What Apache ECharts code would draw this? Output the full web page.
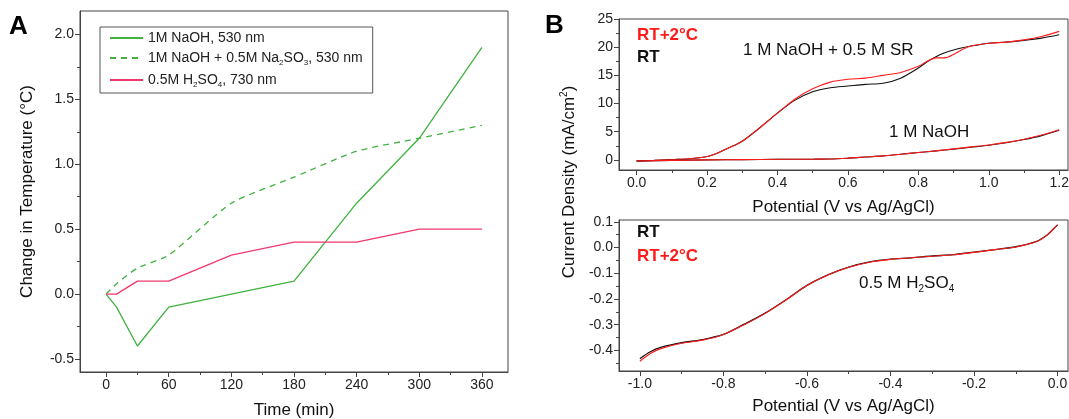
<!DOCTYPE html>
<html><head><meta charset="utf-8">
<script src="https://cdn.jsdelivr.net/npm/echarts@6/dist/echarts.min.js"></script>
<style>html,body{margin:0;padding:0;background:#fff}#c{width:1069px;height:419px}</style>
</head><body><div id="c"></div>
<script>
// ---- Panel A data ----
const timeMin = [0, 10, 30, 60, 120, 180, 240, 300, 360];
const naoh530 = [0, -0.1, -0.4, -0.1, 0, 0.1, 0.7, 1.2, 1.9];
const naohSulfite530 = [0, 0.08, 0.2, 0.3, 0.7, 0.9, 1.1, 1.2, 1.3];
const h2so4_730 = [0, 0, 0.1, 0.1, 0.3, 0.4, 0.4, 0.5, 0.5];
const timeTicks = [0, 60, 120, 180, 240, 300, 360];
const timeMinorTicks = [30, 90, 150, 210, 270, 330];
const tempTicks = [-0.5, 0, 0.5, 1.0, 1.5, 2.0];
const tempMinorTicks = [-0.25, 0.25, 0.75, 1.25, 1.75];

// ---- Panel B (top) data ----
const potSR = [0, 0.05, 0.1, 0.15, 0.2, 0.225, 0.25, 0.275, 0.3, 0.35, 0.4, 0.45, 0.5, 0.55, 0.6, 0.65, 0.7, 0.75, 0.8, 0.825, 0.85, 0.875, 0.9, 0.925, 0.95, 1.0, 1.05, 1.1, 1.15, 1.2];
const srRTplus2 = [-0.2, -0.1, 0.05, 0.2, 0.6, 1.1, 1.8, 2.5, 3.3, 5.7, 8.3, 10.8, 12.6, 13.8, 14.3, 14.5, 15.0, 15.5, 16.6, 17.5, 18.1, 18.1, 18.7, 19.6, 20.2, 20.7, 20.9, 21.3, 21.9, 22.8];
const srRT = [-0.2, -0.1, 0.05, 0.2, 0.6, 1.1, 1.8, 2.5, 3.3, 5.7, 8.3, 10.6, 12.1, 12.8, 13.1, 13.4, 13.6, 14.5, 16.3, 17.4, 18.3, 19.0, 19.5, 19.9, 20.2, 20.7, 20.9, 21.2, 21.6, 22.2];
const potNaOH = [0, 0.1, 0.2, 0.3, 0.4, 0.5, 0.55, 0.6, 0.65, 0.7, 0.75, 0.8, 0.85, 0.9, 0.95, 1.0, 1.05, 1.1, 1.15, 1.2];
const naohRTplus2 = [-0.2, -0.1, 0, 0.05, 0.1, 0.12, 0.15, 0.3, 0.5, 0.7, 1.0, 1.3, 1.6, 1.95, 2.3, 2.65, 3.1, 3.65, 4.4, 5.35];
const naohRT = [-0.2, -0.1, 0, 0.05, 0.1, 0.12, 0.15, 0.3, 0.5, 0.7, 1.0, 1.3, 1.6, 1.9, 2.25, 2.6, 3.05, 3.6, 4.3, 5.25];
const potTicksTop = [0, 0.2, 0.4, 0.6, 0.8, 1.0, 1.2];
const potMinorTop = [0.1, 0.3, 0.5, 0.7, 0.9, 1.1];
const cdTicksTop = [0, 5, 10, 15, 20, 25];
const cdMinorTop = [2.5, 7.5, 12.5, 17.5, 22.5];

// ---- Panel B (bottom) data ----
const potAcid = [-1.0, -0.975, -0.95, -0.9, -0.85, -0.8, -0.75, -0.7, -0.65, -0.6, -0.55, -0.5, -0.45, -0.4, -0.35, -0.3, -0.25, -0.2, -0.15, -0.1, -0.05, -0.025, -0.01, 0];
const acidRT = [-0.432, -0.405, -0.388, -0.370, -0.358, -0.338, -0.298, -0.255, -0.203, -0.147, -0.106, -0.076, -0.056, -0.045, -0.040, -0.033, -0.028, -0.018, -0.008, 0.003, 0.024, 0.049, 0.072, 0.088];
const acidRTplus2 = [-0.442, -0.412, -0.393, -0.372, -0.360, -0.338, -0.300, -0.256, -0.204, -0.148, -0.107, -0.077, -0.057, -0.046, -0.040, -0.034, -0.028, -0.019, -0.008, 0.002, 0.023, 0.048, 0.072, 0.088];
const potTicksBot = [-1.0, -0.8, -0.6, -0.4, -0.2, 0.0];
const potMinorBot = [-0.9, -0.7, -0.5, -0.3, -0.1];
const cdTicksBot = [-0.4, -0.3, -0.2, -0.1, 0.0, 0.1];
const cdMinorBot = [-0.45, -0.35, -0.25, -0.15, -0.05, 0.05];

const FONT = '"Liberation Sans", Arial, sans-serif';
const AX = '#444';
const zip = (xs, ys) => xs.map((x, i) => [x, ys[i]]);

function mainAxis(gi, pos, min, max, ticks, fmt, extra) {
  return Object.assign({
    type: 'value', gridIndex: gi, position: pos, min: min, max: max, scale: true,
    splitLine: { show: false },
    axisLine: { show: true, onZero: false, lineStyle: { color: AX, width: 1 } },
    axisTick: { show: true, customValues: ticks, length: 5, lineStyle: { color: AX } },
    axisLabel: { customValues: ticks, formatter: fmt, color: '#222', fontSize: 14, fontFamily: FONT, margin: 6 },
    nameTextStyle: { color: '#111', fontSize: 17, fontFamily: FONT }
  }, extra || {});
}
function minorAxis(gi, pos, min, max, ticks) {
  return {
    type: 'value', gridIndex: gi, position: pos, min: min, max: max, scale: true,
    splitLine: { show: false },
    axisLine: { show: false, onZero: false },
    axisTick: { show: true, customValues: ticks, length: 3, lineStyle: { color: AX } },
    axisLabel: { show: false }
  };
}
const f1 = v => v.toFixed(1);
const f0 = v => v.toFixed(0);

const sub = { fontSize: 8, fontFamily: FONT, color: '#222', padding: [10, 0, 0, 0] };
const gridBase = { show: true, borderColor: AX, borderWidth: 1, containLabel: false, outerBoundsMode: 'none' };

const option = {
  animation: false,
  backgroundColor: '#fff',
  grid: [
    Object.assign({ left: 80, top: 11, width: 428, height: 361 }, gridBase),
    Object.assign({ left: 619, top: 19, width: 449, height: 151 }, gridBase),
    Object.assign({ left: 619, top: 220, width: 449, height: 151 }, gridBase)
  ],
  xAxis: [
    mainAxis(0, 'bottom', -25, 385, timeTicks, f0, { name: 'Time (min)', nameLocation: 'middle', nameGap: 30 }),
    minorAxis(0, 'bottom', -25, 385, timeMinorTicks),
    mainAxis(1, 'bottom', -0.05, 1.225, potTicksTop, f1, { name: 'Potential (V vs Ag/AgCl)', nameLocation: 'middle', nameGap: 29 }),
    minorAxis(1, 'bottom', -0.05, 1.225, potMinorTop),
    mainAxis(2, 'bottom', -1.05, 0.025, potTicksBot, f1, { name: 'Potential (V vs Ag/AgCl)', nameLocation: 'middle', nameGap: 27 }),
    minorAxis(2, 'bottom', -1.05, 0.025, potMinorBot)
  ],
  yAxis: [
    mainAxis(0, 'left', -0.6, 2.18, tempTicks, f1, { name: 'Change in Temperature (°C)', nameLocation: 'middle', nameGap: 44 }),
    minorAxis(0, 'left', -0.6, 2.18, tempMinorTicks),
    mainAxis(1, 'left', -1.8, 25, cdTicksTop, f0),
    minorAxis(1, 'left', -1.8, 25, cdMinorTop),
    mainAxis(2, 'left', -0.48, 0.107, cdTicksBot, f1),
    minorAxis(2, 'left', -0.48, 0.107, cdMinorBot)
  ],
  legend: {
    show: true,
    data: ['1M NaOH, 530 nm', '1M NaOH + 0.5M Na2SO3, 530 nm', '0.5M H2SO4, 730 nm'],
    orient: 'vertical', left: 100, top: 27,
    borderColor: '#555', borderWidth: 1, borderRadius: 0,
    padding: [4, 10, 4, 9], itemGap: 6, itemWidth: 33, itemHeight: 14,
    itemStyle: { color: 'rgba(0,0,0,0)', borderWidth: 0, opacity: 0 },
    textStyle: { fontSize: 14, fontFamily: FONT, color: '#222', rich: { sub: sub } },
    formatter: function (n) {
      if (n === '1M NaOH + 0.5M Na2SO3, 530 nm') return '1M NaOH + 0.5M Na{sub|2}SO{sub|3}, 530 nm';
      if (n === '0.5M H2SO4, 730 nm') return '0.5M H{sub|2}SO{sub|4}, 730 nm';
      return n;
    }
  },
  graphic: [
    { type: 'text', left: 9, top: 14, style: { text: 'A', font: 'bold 26px ' + FONT, fill: '#000' } },
    { type: 'text', left: 545, top: 13, style: { text: 'B', font: 'bold 26px ' + FONT, fill: '#000' } },
    { type: 'text', x: 569, y: 182, rotation: Math.PI / 2, style: {
        text: 'Current Density (mA/cm{sup|2})', font: '17px ' + FONT, fill: '#111', align: 'center', verticalAlign: 'middle',
        rich: { sup: { fontSize: 10, fontFamily: FONT, fill: '#111', padding: [0, 0, 9, 0] } } } },
    { type: 'text', left: 637, top: 27, style: { text: 'RT+2°C', font: 'bold 17px ' + FONT, fill: '#ff1a1a' } },
    { type: 'text', left: 637, top: 49, style: { text: 'RT', font: 'bold 17px ' + FONT, fill: '#111' } },
    { type: 'text', left: 743, top: 42, style: { text: '1 M NaOH + 0.5 M SR', font: '17px ' + FONT, fill: '#111' } },
    { type: 'text', left: 889, top: 124, style: { text: '1 M NaOH', font: '17px ' + FONT, fill: '#111' } },
    { type: 'text', left: 637, top: 224, style: { text: 'RT', font: 'bold 17px ' + FONT, fill: '#111' } },
    { type: 'text', left: 637, top: 248, style: { text: 'RT+2°C', font: 'bold 17px ' + FONT, fill: '#ff1a1a' } },
    { type: 'text', left: 859, top: 275, style: {
        text: '0.5 M H{s|2}SO{s|4}', font: '17px ' + FONT, fill: '#111',
        rich: { s: { fontSize: 10, fontFamily: FONT, fill: '#111', padding: [11, 0, 0, 0] } } } }
  ],
  series: [
    { name: '1M NaOH, 530 nm', type: 'line', xAxisIndex: 0, yAxisIndex: 0, data: zip(timeMin, naoh530),
      showSymbol: false, symbol: 'none', lineStyle: { color: '#3fb23f', width: 1.3 }, itemStyle: { color: '#3fb23f' } },
    { name: '1M NaOH + 0.5M Na2SO3, 530 nm', type: 'line', xAxisIndex: 0, yAxisIndex: 0, data: zip(timeMin, naohSulfite530),
      showSymbol: false, symbol: 'none', smooth: 0.2, lineStyle: { color: '#3fb23f', width: 1.3, type: [6, 5] }, itemStyle: { color: '#3fb23f' } },
    { name: '0.5M H2SO4, 730 nm', type: 'line', xAxisIndex: 0, yAxisIndex: 0, data: zip(timeMin, h2so4_730),
      showSymbol: false, symbol: 'none', lineStyle: { color: '#f0386e', width: 1.3 }, itemStyle: { color: '#f0386e' } },

    { name: 'SR RT', type: 'line', xAxisIndex: 2, yAxisIndex: 2, data: zip(potSR, srRT), showSymbol: false, symbol: 'none',
      smooth: 0.3, lineStyle: { color: '#111', width: 1.1 } },
    { name: 'SR RT+2', type: 'line', xAxisIndex: 2, yAxisIndex: 2, data: zip(potSR, srRTplus2), showSymbol: false, symbol: 'none',
      smooth: 0.3, lineStyle: { color: '#ff1a1a', width: 1.1 } },
    { name: 'NaOH RT', type: 'line', xAxisIndex: 2, yAxisIndex: 2, data: zip(potNaOH, naohRT), showSymbol: false, symbol: 'none',
      smooth: 0.3, lineStyle: { color: '#111', width: 1.1 } },
    { name: 'NaOH RT+2', type: 'line', xAxisIndex: 2, yAxisIndex: 2, data: zip(potNaOH, naohRTplus2), showSymbol: false, symbol: 'none',
      smooth: 0.3, lineStyle: { color: '#ff1a1a', width: 1.1 } },

    { name: 'Acid RT', type: 'line', xAxisIndex: 4, yAxisIndex: 4, data: zip(potAcid, acidRT), showSymbol: false, symbol: 'none',
      smooth: 0.3, lineStyle: { color: '#111', width: 1.3 } },
    { name: 'Acid RT+2', type: 'line', xAxisIndex: 4, yAxisIndex: 4, data: zip(potAcid, acidRTplus2), showSymbol: false, symbol: 'none',
      smooth: 0.3, lineStyle: { color: '#ff1a1a', width: 1.1 } }
  ]
};
const chart = echarts.init(document.getElementById('c'), null, { renderer: 'canvas' });
chart.setOption(option);
</script></body></html>
